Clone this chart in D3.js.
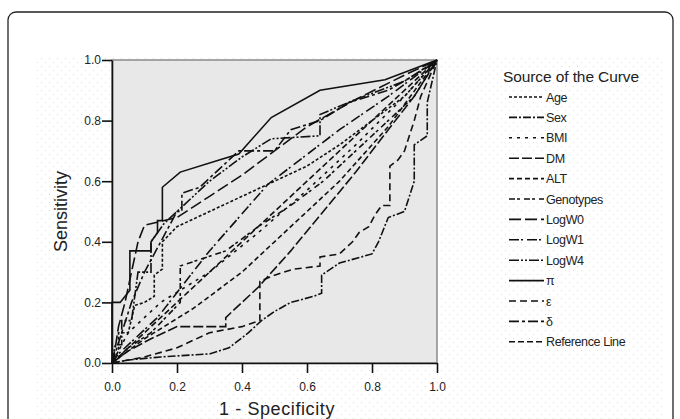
<!DOCTYPE html>
<html>
<head>
<meta charset="utf-8">
<script src="https://cdn.jsdelivr.net/npm/d3@7"></script>
<style>
  body { margin: 0; background: #fff; }
  svg text { font-family: "Liberation Sans", Arial, sans-serif; fill: #222; }
</style>
</head>
<body>
<div id="chart"></div>
<script>
// ROC curves, values
const ticks = [0, 0.2, 0.4, 0.6, 0.8, 1.0];

const age = [[0,0],[0.02,0.04],[0.02,0.1],[0.05,0.1],[0.07,0.19],[0.1,0.2],[0.13,0.22],[0.13,0.29],[0.155,0.31],[0.155,0.4],[0.2,0.45],[0.3,0.5],[0.4,0.55],[0.5,0.6],[0.6,0.65],[0.7,0.72],[0.8,0.8],[0.9,0.88],[1,1]];
const sex = [[0,0],[0.05,0.01],[0.15,0.02],[0.3,0.03],[0.36,0.05],[0.42,0.1],[0.46,0.14],[0.5,0.17],[0.55,0.2],[0.62,0.22],[0.645,0.23],[0.645,0.29],[0.7,0.33],[0.8,0.36],[0.82,0.4],[0.85,0.48],[0.9,0.5],[0.93,0.6],[0.93,0.72],[0.97,0.75],[0.97,0.86],[1,1]];
const bmi = [[0,0],[0.05,0.1],[0.15,0.2],[0.3,0.3],[0.45,0.43],[0.6,0.57],[0.75,0.72],[0.9,0.88],[1,1]];
const dm = [[0,0],[0.05,0.04],[0.12,0.08],[0.2,0.12],[0.35,0.12],[0.35,0.15],[0.45,0.25],[0.55,0.37],[0.65,0.5],[0.75,0.63],[0.85,0.77],[0.93,0.88],[1,1]];
const alt = [[0,0],[0.1,0.08],[0.25,0.18],[0.4,0.3],[0.55,0.45],[0.7,0.6],[0.85,0.78],[1,1]];
const genotypes = [[0,0],[0.05,0.05],[0.12,0.1],[0.21,0.2],[0.21,0.32],[0.35,0.37],[0.45,0.45],[0.55,0.52],[0.65,0.6],[0.75,0.7],[0.85,0.8],[0.93,0.88],[1,1]];
const logW0 = [[0,0],[0.01,0.05],[0.02,0.12],[0.04,0.2],[0.06,0.3],[0.08,0.4],[0.1,0.455],[0.2,0.48],[0.3,0.55],[0.4,0.62],[0.5,0.7],[0.6,0.78],[0.75,0.87],[0.9,0.95],[1,1]];
const logW1 = [[0,0],[0.02,0.03],[0.14,0.15],[0.3,0.37],[0.48,0.59],[0.7,0.77],[0.85,0.88],[1,1]];
const logW4 = [[0,0],[0.01,0.06],[0.03,0.06],[0.03,0.14],[0.06,0.14],[0.08,0.3],[0.12,0.3],[0.12,0.4],[0.16,0.46],[0.2,0.5],[0.3,0.6],[0.4,0.68],[0.49,0.74],[0.64,0.75],[0.64,0.82],[0.75,0.87],[0.9,0.93],[1,1]];
const pi = [[0,0],[0,0.2],[0.025,0.2],[0.055,0.24],[0.055,0.37],[0.12,0.37],[0.12,0.4],[0.14,0.43],[0.14,0.47],[0.155,0.47],[0.155,0.58],[0.21,0.63],[0.33,0.67],[0.39,0.69],[0.49,0.81],[0.64,0.9],[0.84,0.935],[1,1]];
const epsilon = [[0,0],[0.1,0.02],[0.2,0.05],[0.3,0.1],[0.4,0.12],[0.455,0.14],[0.455,0.27],[0.5,0.29],[0.56,0.31],[0.64,0.32],[0.64,0.35],[0.7,0.36],[0.74,0.4],[0.76,0.43],[0.79,0.45],[0.81,0.49],[0.83,0.52],[0.855,0.52],[0.855,0.65],[0.88,0.67],[0.9,0.7],[0.93,0.8],[0.95,0.88],[1,1]];
const delta = [[0,0],[0.03,0.1],[0.06,0.2],[0.1,0.3],[0.15,0.4],[0.2,0.5],[0.215,0.5],[0.215,0.56],[0.27,0.58],[0.33,0.64],[0.39,0.7],[0.5,0.7],[0.55,0.77],[0.64,0.8],[0.73,0.86],[0.85,0.9],[0.93,0.95],[1,1]];
const reference = [[0,0],[1,1]];

const names = ['Age','Sex','BMI','DM','ALT','Genotypes','LogW0','LogW1','LogW4','\u03c0','\u03b5','\u03b4','Reference Line'];
const curves = [age, sex, bmi, dm, alt, genotypes, logW0, logW1, logW4, pi, epsilon, delta, reference];
const dashes = ['3,2','8,2,2,2','3,5','10,3','5,3','6,2,3,4','12,4','10,2,2,4','10,2,2,2,2,2','none','7,4','10,3,3,3','6,3'];

const width = 680;
const height = 419;
const plot = { left: 112, right: 437, top: 60, bottom: 363 };

const svg = d3.select('#chart')
  .append('svg')
  .attr('width', width)
  .attr('height', height);

// dotted background pattern
const defs = svg.append('defs');
const pat = defs.append('pattern')
  .attr('id', 'dots')
  .attr('width', 8)
  .attr('height', 8)
  .attr('patternUnits', 'userSpaceOnUse');
pat.append('rect').attr('x', 1).attr('y', 2).attr('width', 1).attr('height', 1).attr('fill', '#f1c9f1');
pat.append('rect').attr('x', 5).attr('y', 6).attr('width', 1).attr('height', 1).attr('fill', '#cdebcd');

svg.append('rect')
  .attr('x', 36).attr('y', 56)
  .attr('width', 626).attr('height', 370)
  .attr('fill', 'url(#dots)');

// card frame
svg.append('rect')
  .attr('x', 8).attr('y', 12)
  .attr('width', 665).attr('height', 440)
  .attr('rx', 8)
  .attr('fill', 'none')
  .attr('stroke', '#222')
  .attr('stroke-width', 1.3);

const x = d3.scaleLinear().domain([0, 1]).range([plot.left, plot.right]);
const y = d3.scaleLinear().domain([0, 1]).range([plot.bottom, plot.top]);

// plot area
svg.append('rect')
  .attr('x', plot.left).attr('y', plot.top)
  .attr('width', plot.right - plot.left)
  .attr('height', plot.bottom - plot.top)
  .attr('fill', '#e8e8e8')
  .attr('stroke', '#8a8a8a')
  .attr('stroke-width', 1.5);

const line = d3.line()
  .x(d => x(d[0]))
  .y(d => y(d[1]));

svg.append('g')
  .selectAll('path')
  .data(curves)
  .enter().append('path')
  .attr('d', line)
  .attr('fill', 'none')
  .attr('stroke', '#111')
  .attr('stroke-width', 1.6)
  .attr('stroke-dasharray', (d, i) => dashes[i]);

// axes
const xAxis = svg.append('g')
  .attr('transform', 'translate(0,' + plot.bottom + ')')
  .call(d3.axisBottom(x).tickValues(ticks).tickFormat(d3.format('.1f')).tickSize(10).tickSizeOuter(0));
const yAxis = svg.append('g')
  .attr('transform', 'translate(' + plot.left + ',0)')
  .call(d3.axisLeft(y).tickValues(ticks).tickFormat(d3.format('.1f')).tickSize(10).tickSizeOuter(0));

[xAxis, yAxis].forEach(a => {
  a.select('.domain').attr('stroke', '#111').attr('stroke-width', 1.6);
  a.selectAll('.tick line').attr('stroke', '#111').attr('stroke-width', 1.6);
  a.selectAll('.tick text')
    .style('font-family', '"Liberation Sans", Arial, sans-serif')
    .style('font-size', '12px')
    .attr('fill', '#333');
});
xAxis.selectAll('.tick text').attr('dy', '1.25em');
yAxis.selectAll('.tick text').attr('x', -11);

svg.append('text')
  .attr('transform', 'translate(67,' + ((plot.top + plot.bottom) / 2) + ') rotate(-90)')
  .attr('text-anchor', 'middle')
  .style('font-size', '18px')
  .text('Sensitivity');

svg.append('text')
  .attr('x', 277)
  .attr('y', 415)
  .attr('text-anchor', 'middle')
  .style('font-size', '18px')
  .style('letter-spacing', '0.6px')
  .text('1 - Specificity');

// legend
const legend = svg.append('g').attr('class', 'legend');
legend.append('text')
  .attr('x', 503)
  .attr('y', 82)
  .style('font-size', '15.5px')
  .style('letter-spacing', '-0.1px')
  .text('Source of the Curve');

const rows = legend.selectAll('g.row')
  .data(names)
  .enter().append('g')
  .attr('class', 'row')
  .attr('transform', (d, i) => 'translate(0,' + (97 + i * 20.4) + ')');

rows.append('line')
  .attr('x1', 509).attr('x2', 544)
  .attr('stroke', '#111')
  .attr('stroke-width', 1.6)
  .attr('stroke-dasharray', (d, i) => dashes[i]);

rows.append('text')
  .attr('x', 546)
  .attr('y', 4.5)
  .style('font-size', '12.5px')
  .style('letter-spacing', '-0.4px')
  .text(d => d);
</script>
</body>
</html>
